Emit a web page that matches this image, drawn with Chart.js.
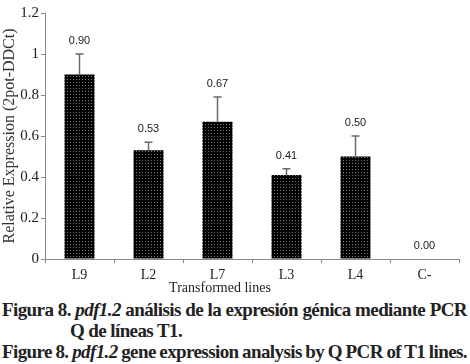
<!DOCTYPE html>
<html>
<head>
<meta charset="utf-8">
<script src="https://cdn.jsdelivr.net/npm/chart.js@4/dist/chart.umd.min.js"></script>
<style>
  html, body { margin: 0; padding: 0; background: #fff; }
  #wrap { position: relative; width: 470px; height: 364px; overflow: hidden; }
  #box { position: absolute; left: 0; top: 0; width: 470px; height: 295px; }
  .cap { position: absolute; font-family: "Liberation Serif", "Times New Roman", serif; font-weight: bold;
         font-size: 19px; letter-spacing: -0.6px; color: #222; white-space: nowrap; line-height: 21px; }
</style>
</head>
<body>
<div id="wrap">
  <div id="box"><canvas id="chart_relExpression"></canvas></div>
  <div class="cap fit" style="left:2px; top:299px;">Figura 8. <i>pdf1.2</i> análisis de la expresión génica mediante PCR</div>
  <div class="cap" style="left:70px; top:320px;">Q de líneas T1.</div>
  <div class="cap fit" style="left:2px; top:341px;">Figure 8. <i>pdf1.2</i> gene expression analysis by Q PCR of T1 lines.</div>
</div>
<script>
var lineLabels = ['L9', 'L2', 'L7', 'L3', 'L4', 'C-'];
var expressionValues = [0.90, 0.53, 0.67, 0.41, 0.50, 0.00];
var errorValues = [0.10, 0.04, 0.12, 0.03, 0.10, 0.00];
var valueTexts = ['0.90', '0.53', '0.67', '0.41', '0.50', '0.00'];

// stretch the caption lines to the full width, like the original
document.querySelectorAll('.fit').forEach(function (el) {
    var words = el.textContent.trim().split(/\s+/).length;
    var gap = (465 - el.getBoundingClientRect().width) / (words - 1);
    el.style.wordSpacing = gap.toFixed(2) + 'px';
});

// dotted black fill
var patCanvas = document.createElement('canvas');
patCanvas.width = 3;
patCanvas.height = 3;
var pctx = patCanvas.getContext('2d');
pctx.fillStyle = '#000';
pctx.fillRect(0, 0, 3, 3);
pctx.fillStyle = '#7d7d7d';
pctx.fillRect(1, 1, 1, 1);
var dotPattern = pctx.createPattern(patCanvas, 'repeat');

var serif = '"Liberation Serif", "Times New Roman", serif';

var chart_relExpression = new Chart(document.getElementById('chart_relExpression'), {
    type: 'bar',
    data: {
        labels: lineLabels,
        datasets: [
            {
                label: 'Relative Expression',
                data: expressionValues,
                backgroundColor: dotPattern,
                borderWidth: 0,
                barPercentage: 0.435,
                categoryPercentage: 1
            }
        ]
    },
    options: {
        animation: false,
        responsive: true,
        maintainAspectRatio: false,
        layout: {
            padding: { top: 13, right: 11, left: 0, bottom: 0 }
        },
        plugins: {
            legend: { display: false },
            tooltip: { enabled: false }
        },
        scales: {
            x: {
                grid: { drawOnChartArea: false, drawTicks: true, tickLength: 4, color: '#8a8a8a', offset: true },
                border: { color: '#8a8a8a', width: 1 },
                ticks: { color: '#222', font: { family: serif, size: 14 }, padding: 4 },
                afterFit: function (scale) { scale.height = 36; }
            },
            y: {
                min: 0,
                max: 1.2,
                ticks: {
                    stepSize: 0.2,
                    color: '#222',
                    font: { family: serif, size: 15 },
                    padding: 2,
                    callback: function (v) { return String(Math.round(v * 10) / 10); }
                },
                grid: { drawOnChartArea: false, drawTicks: true, tickLength: 4, color: '#8a8a8a' },
                border: { color: '#8a8a8a', width: 1 },
                title: {
                    display: true,
                    text: 'Relative Expression (2pot-DDCt)',
                    color: '#333',
                    font: { family: serif, size: 16 },
                    padding: { top: 0, bottom: 0 }
                },
                afterFit: function (scale) { scale.width = 45; }
            }
        }
    },
    plugins: [{
        id: 'errorBarsAndLabels',
        afterDatasetsDraw: function (chart) {
            var ctx = chart.ctx;
            var meta = chart.getDatasetMeta(0);
            var yScale = chart.scales.y;
            ctx.save();
            meta.data.forEach(function (bar, i) {
                var x = bar.x;
                var top = yScale.getPixelForValue(expressionValues[i] + errorValues[i]);
                if (errorValues[i] > 0) {
                    ctx.strokeStyle = '#6a6a6a';
                    ctx.lineWidth = 1.5;
                    ctx.beginPath();
                    ctx.moveTo(x, bar.y);
                    ctx.lineTo(x, top);
                    ctx.moveTo(x - 4, top);
                    ctx.lineTo(x + 4, top);
                    ctx.stroke();
                }
                ctx.fillStyle = '#1a1a1a';
                ctx.font = '11px "Liberation Sans", Arial, sans-serif';
                ctx.textAlign = 'center';
                ctx.textBaseline = 'middle';
                ctx.fillText(valueTexts[i], x, top - 13);
            });
            // x axis title, sits left of centre in the original
            ctx.fillStyle = '#222';
            ctx.font = '14px ' + serif;
            ctx.textAlign = 'center';
            ctx.textBaseline = 'middle';
            ctx.fillText('Transformed lines', 220, 288);
            ctx.restore();
        }
    }, {
        id: 'whiteBg',
        beforeDraw: function (chart) {
            var ctx = chart.canvas.getContext('2d');
            ctx.save();
            ctx.globalCompositeOperation = 'destination-over';
            ctx.fillStyle = 'white';
            ctx.fillRect(0, 0, chart.canvas.width, chart.canvas.height);
            ctx.restore();
        }
    }]
});
</script>
</body>
</html>
